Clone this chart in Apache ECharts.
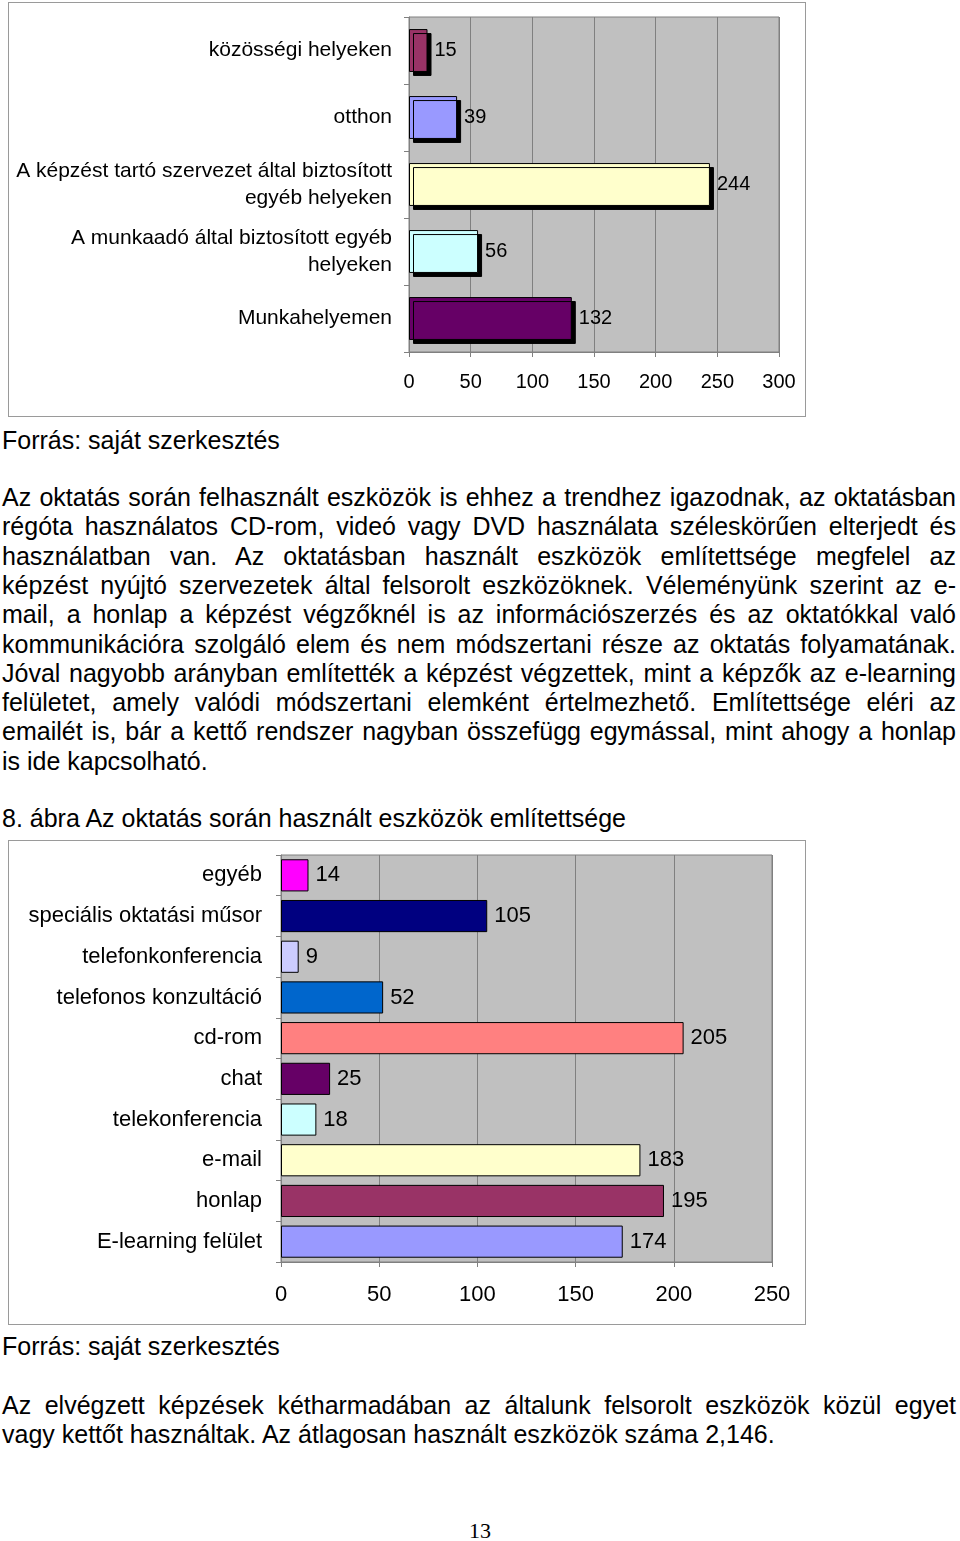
<!DOCTYPE html>
<html>
<head>
<meta charset="utf-8">
<script src="https://cdn.jsdelivr.net/npm/echarts@6/dist/echarts.min.js"></script>
<style>
  html,body{margin:0;padding:0;background:#fff;}
  body{width:960px;height:1541px;position:relative;overflow:hidden;font-family:"Liberation Sans",Arial,sans-serif;color:#000;}
  .box{position:absolute;box-sizing:border-box;border:1px solid #9a9a9a;}
  .t{position:absolute;left:2px;width:954px;font-size:25px;line-height:29.3px;white-space:nowrap;}
  .j{text-align:justify;text-align-last:justify;}
  .pg{position:absolute;left:0;width:960px;text-align:center;font-family:"Liberation Serif",serif;font-size:22px;}
</style>
</head>
<body>
<div id="c1" class="box" style="left:8px;top:2px;width:798px;height:415px;"></div>
<div id="c2" class="box" style="left:8px;top:840px;width:798px;height:485px;"></div>

<div class="t" style="top:426px;">Forrás: saját szerkesztés</div>

<div class="t j" style="top:483px;">Az oktatás során felhasznált eszközök is ehhez a trendhez igazodnak, az oktatásban</div>
<div class="t j" style="top:512.3px;">régóta használatos CD-rom, videó vagy DVD használata széleskörűen elterjedt és</div>
<div class="t j" style="top:541.6px;">használatban van. Az oktatásban használt eszközök említettsége megfelel az</div>
<div class="t j" style="top:570.9px;">képzést nyújtó szervezetek által felsorolt eszközöknek. Véleményünk szerint az e-</div>
<div class="t j" style="top:600.2px;">mail, a honlap a képzést végzőknél is az információszerzés és az oktatókkal való</div>
<div class="t j" style="top:629.5px;">kommunikációra szolgáló elem és nem módszertani része az oktatás folyamatának.</div>
<div class="t j" style="top:658.8px;">Jóval nagyobb arányban említették a képzést végzettek, mint a képzők az e-learning</div>
<div class="t j" style="top:688.1px;">felületet, amely valódi módszertani elemként értelmezhető. Említettsége eléri az</div>
<div class="t j" style="top:717.4px;">emailét is, bár a kettő rendszer nagyban összefügg egymással, mint ahogy a honlap</div>
<div class="t" style="top:746.7px;">is ide kapcsolható.</div>

<div class="t" style="top:804px;">8. ábra Az oktatás során használt eszközök említettsége</div>

<div class="t" style="top:1332px;">Forrás: saját szerkesztés</div>

<div class="t j" style="top:1391px;">Az elvégzett képzések kétharmadában az általunk felsorolt eszközök közül egyet</div>
<div class="t" style="top:1420.3px;">vagy kettőt használtak. Az átlagosan használt eszközök száma 2,146.</div>

<div class="pg" style="top:1518px;">13</div>

<script>
// Chart 1 data (top to bottom)
const places = ["közösségi helyeken", "otthon", "A képzést tartó szervezet által biztosított\negyéb helyeken", "A munkaadó által biztosított egyéb\nhelyeken", "Munkahelyemen"];
const placeValues = [15, 39, 244, 56, 132];
const placeColors = ["#993366", "#9999ff", "#ffffcc", "#ccffff", "#660066"];

// Chart 2 data (top to bottom)
const tools = ["egyéb", "speciális oktatási műsor", "telefonkonferencia", "telefonos konzultáció", "cd-rom", "chat", "telekonferencia", "e-mail", "honlap", "E-learning felület"];
const toolValues = [14, 105, 9, 52, 205, 25, 18, 183, 195, 174];
const toolColors = ["#ff00ff", "#000080", "#ccccff", "#0066cc", "#ff8080", "#660066", "#ccffff", "#ffffcc", "#993366", "#9999ff"];

const FONT = "Liberation Sans";

function makeOption(cfg) {
  return {
    animation: false,
    grid: {
      left: cfg.left, top: cfg.top, width: cfg.width, height: cfg.height,
      show: true, backgroundColor: "#c0c0c0", borderColor: "#808080", borderWidth: 1
    },
    xAxis: {
      type: "value", min: 0, max: cfg.max, interval: 50,
      axisLine: { show: true, lineStyle: { color: "#808080" } },
      axisTick: { show: true, length: 5, lineStyle: { color: "#808080" } },
      splitLine: { show: true, lineStyle: { color: "#808080", width: 1 } },
      axisLabel: { color: "#000", fontFamily: FONT, fontSize: cfg.tickFont, margin: cfg.tickMargin }
    },
    yAxis: {
      type: "category", inverse: true, data: cfg.cats,
      axisLine: { show: true, lineStyle: { color: "#808080" } },
      axisTick: { show: true, length: 5, lineStyle: { color: "#808080" } },
      splitLine: { show: false },
      axisLabel: { color: "#000", fontFamily: FONT, fontSize: cfg.catFont, lineHeight: cfg.catLH, margin: cfg.catMargin, align: "right" }
    },
    series: [{
      type: "bar",
      barCategoryGap: cfg.gap,
      data: cfg.values.map((v, i) => ({
        value: v,
        itemStyle: Object.assign({ color: cfg.colors[i], borderColor: "#000", borderWidth: 1 }, cfg.shadow ? { shadowColor: "#000", shadowOffsetX: 4, shadowOffsetY: 4, shadowBlur: 0 } : {})
      })),
      label: { show: true, position: "right", distance: cfg.labelDist, color: "#000", fontFamily: FONT, fontSize: cfg.valFont }
    }]
  };
}

const c1 = echarts.init(document.getElementById("c1"), null, { renderer: "canvas" });
c1.setOption(makeOption({
  left: 400, top: 14, width: 370, height: 335, max: 300,
  cats: places, values: placeValues, colors: placeColors,
  tickFont: 20, tickMargin: 20, catFont: 21, catLH: 27, catMargin: 17,
  gap: "36%", labelDist: 7, valFont: 20, shadow: true
}));

const c2 = echarts.init(document.getElementById("c2"), null, { renderer: "canvas" });
c2.setOption(makeOption({
  left: 272, top: 14, width: 491, height: 407, max: 250,
  cats: tools, values: toolValues, colors: toolColors,
  tickFont: 22, tickMargin: 22, catFont: 22, catLH: 26, catMargin: 19,
  gap: "21%", labelDist: 7, valFont: 22, shadow: false
}));
</script>
</body>
</html>
